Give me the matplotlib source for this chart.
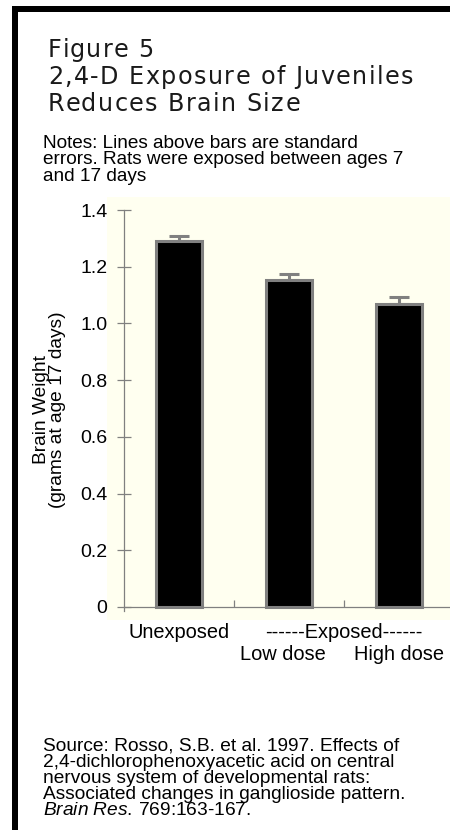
import matplotlib
matplotlib.use("Agg")
import matplotlib.pyplot as plt
from matplotlib.patches import Rectangle
import matplotlib.transforms as mtransforms

plt.rcParams["mathtext.fontset"] = "custom"
plt.rcParams["mathtext.rm"] = "Liberation Sans"
plt.rcParams["mathtext.it"] = "Liberation Sans:italic"

# Data
groups = ["Unexposed", "Low dose", "High dose"]
brain_weight = [1.29, 1.155, 1.07]
std_err = [0.02, 0.02, 0.023]
yticks = [0, 0.2, 0.4, 0.6, 0.8, 1.0, 1.2, 1.4]
ytick_labels = ["0", "0.2", "0.4", "0.6", "0.8", "1.0", "1.2", "1.4"]

W, H = 450, 830
fig = plt.figure(figsize=(W / 100, H / 100), dpi=100)
fig.patch.set_facecolor("white")
renderer = fig.canvas.get_renderer()


def fx(px):
    return px / W


def fy(py):
    return 1 - py / H


def text_width(s, **kw):
    t = fig.text(0, 0, s, **kw)
    w = t.get_window_extent(renderer).width
    t.remove()
    return w


# black frame on left and top
fig.add_artist(Rectangle((fx(12), 0), fx(6), fy(6), transform=fig.transFigure,
                         color="black", lw=0))
fig.add_artist(Rectangle((fx(12), fy(12)), 1, 6 / H, transform=fig.transFigure,
                         color="black", lw=0))

# title, drawn letter by letter to get the wide tracking
title_lines = ["Figure 5", "2,4-D Exposure of Juveniles", "Reduces Brain Size"]
tkw = dict(family="DejaVu Sans", fontsize=17.2)
bar_w = text_width("|", **tkw)
line2 = title_lines[1]
track = (365 - text_width(line2, **tkw)) / (len(line2) - 1)
for i, line in enumerate(title_lines):
    for j, ch in enumerate(line):
        if ch == " ":
            continue
        xpos = 48 + text_width(line[:j] + "|", **tkw) - bar_w + j * track
        fig.text(fx(xpos), fy(57 + i * 26.8), ch, va="baseline", ha="left",
                 color="#1a1a1a", **tkw)

body = "Liberation Sans"
# multi-line texts: anchor is the baseline of the last line
notes = ["Notes: Lines above bars are standard",
         "errors. Rats were exposed between ages 7",
         "and 17 days"]
fig.text(fx(43), fy(181), "\n".join(notes), family=body, fontsize=13.7,
         va="baseline", ha="left", linespacing=0.97)

source = ["Source: Rosso, S.B. et al. 1997. Effects of",
          "2,4-dichlorophenoxyacetic acid on central",
          "nervous system of developmental rats:",
          "Associated changes in ganglioside pattern.",
          r"$\mathit{Brain\ Res.}\,$769:163-167."]
fig.text(fx(43), fy(815), "\n".join(source), family=body, fontsize=13.8,
         va="baseline", ha="left", linespacing=0.93)

# chart
ax = fig.add_axes([fx(107), fy(620), fx(450 - 107), (620 - 197) / H])
ax.set_facecolor("#fffff0")
x = list(range(len(groups)))
ax.bar(x, brain_weight, width=0.42, color="black", edgecolor="#808080", linewidth=2.2,
       zorder=3)
ax.errorbar(x, brain_weight, yerr=[[0] * len(x), std_err], fmt="none",
            ecolor="#808080", elinewidth=2.2, capsize=7.5, capthick=2.2, zorder=2)

ax.set_xlim(-0.655, 2.464)
ax.set_ylim(-0.046, 1.446)

for s in ["top", "right"]:
    ax.spines[s].set_visible(False)
ax.spines["left"].set_position(("data", -0.5))
ax.spines["bottom"].set_position(("data", 0))
ax.spines["left"].set_bounds(-0.016, 1.4)
ax.spines["bottom"].set_bounds(-0.5, 2.464)
for s in ["left", "bottom"]:
    ax.spines[s].set_color("#808080")
    ax.spines[s].set_linewidth(0.9)

ax.set_yticks(yticks)
ax.set_yticklabels(ytick_labels, family=body, fontsize=14)
ax.tick_params(axis="y", direction="inout", length=10, width=0.9, color="#808080", pad=7)
ax.set_xticks([0.5, 1.5])
ax.set_xticklabels([])
ax.tick_params(axis="x", direction="in", length=5, width=0.9, color="#808080")

# category labels under the axis
xfs = 14.4
trans = mtransforms.blended_transform_factory(ax.transData, fig.transFigure)
trans_left = mtransforms.offset_copy(trans, fig=fig, x=-6, y=0, units="dots")
ax.text(0, fy(638), groups[0], transform=trans, family=body, fontsize=xfs,
        ha="center", va="baseline", clip_on=False)
ax.text(1.5, fy(638), "------Exposed------", transform=trans, family=body, fontsize=xfs,
        ha="center", va="baseline", clip_on=False)
ax.text(1, fy(660), groups[1], transform=trans_left, family=body, fontsize=xfs,
        ha="center", va="baseline", clip_on=False)
ax.text(2, fy(660), groups[2], transform=trans, family=body, fontsize=xfs,
        ha="center", va="baseline", clip_on=False)

# y label
fig.text(fx(42), fy(410), "Brain Weight", family=body, fontsize=13.8, rotation=90,
         ha="center", va="center")
fig.text(fx(58), fy(410), "(grams at age 17 days)", family=body, fontsize=13.8,
         rotation=90, ha="center", va="center")

fig.savefig("out.png", dpi=100)
